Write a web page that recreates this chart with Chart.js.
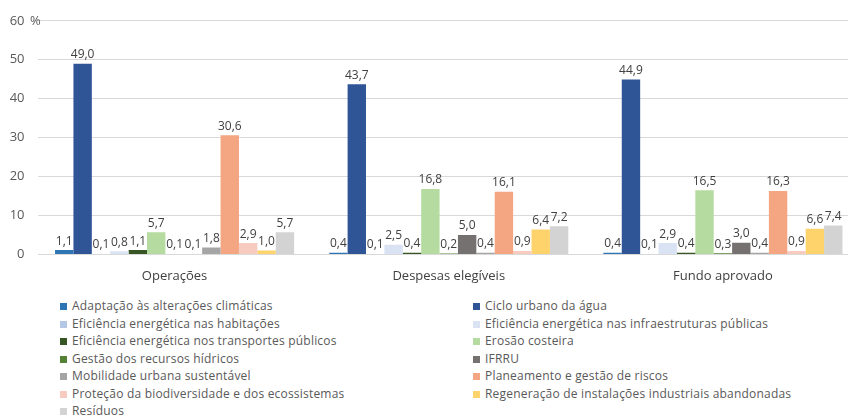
<!DOCTYPE html>
<html><head><meta charset="utf-8">
<script src="https://cdn.jsdelivr.net/npm/chart.js@4.4.0/dist/chart.umd.min.js"></script>
<style>
html,body{margin:0;padding:0;background:#fff;overflow:hidden;}
#wrap{position:relative;width:848px;height:416px;overflow:hidden;}
#c{position:absolute;left:0;top:0;}
#legend{position:absolute;left:60px;top:297px;width:790px;display:grid;grid-template-columns:413px 377px;font-family:"Open Sans",sans-serif;font-size:12px;letter-spacing:0.2px;color:#595959;}
#legend div{height:17.5px;line-height:17.5px;white-space:nowrap;}
#legend span{display:inline-block;width:7px;height:7px;margin-right:5px;vertical-align:0px;}
</style></head>
<body><div id="wrap"><canvas id="c" width="860" height="290"></canvas><div id="legend"></div></div>
<script>
const categories = ["Operações", "Despesas elegíveis", "Fundo aprovado"];
const seriesNames = [
 "Adaptação às alterações climáticas",
 "Ciclo urbano da água",
 "Eficiência energética nas habitações",
 "Eficiência energética nas infraestruturas públicas",
 "Eficiência energética nos transportes públicos",
 "Erosão costeira",
 "Gestão dos recursos hídricos",
 "IFRRU",
 "Mobilidade urbana sustentável",
 "Planeamento e gestão de riscos",
 "Proteção da biodiversidade e dos ecossistemas",
 "Regeneração de instalações industriais abandonadas",
 "Resíduos"
];
const operacoes = [1.1, 49.0, 0.1, 0.8, 1.1, 5.7, 0.1, 0.1, 1.8, 30.6, 2.9, 1.0, 5.7];
const despesas  = [0.4, 43.7, 0.1, 2.5, 0.4, 16.8, 0.2, 5.0, 0.4, 16.1, 0.9, 6.4, 7.2];
const fundo     = [0.4, 44.9, 0.1, 2.9, 0.4, 16.5, 0.3, 3.0, 0.4, 16.3, 0.9, 6.6, 7.4];
const colors = ["#2e75b6","#2f5597","#b4c7e7","#dae3f3","#375623","#b5dba0","#548235","#767171","#a5a5a5","#f4a582","#f8cbc0","#ffd36b","#d3d3d3"];
const yTicks = [0, 10, 20, 30, 40, 50, 60];

const datasets = seriesNames.map((n, i) => ({
  label: n,
  data: [operacoes[i], despesas[i], fundo[i]],
  backgroundColor: colors[i],
  borderWidth: 0
}));

const fmt = v => v.toFixed(1).replace('.', ',');
const FONT = '"Open Sans", sans-serif';

const labelPlugin = {
  id: 'vals',
  afterDatasetsDraw(chart) {
    const ctx = chart.ctx;
    ctx.save();
    ctx.font = '12px ' + FONT;
    ctx.fillStyle = '#404040';
    ctx.textAlign = 'center';
    ctx.textBaseline = 'bottom';
    chart.data.datasets.forEach((ds, i) => {
      const meta = chart.getDatasetMeta(i);
      meta.data.forEach((bar, j) => {
        ctx.fillText(fmt(ds.data[j]), bar.x, bar.y - 3);
      });
    });
    const y = chart.scales.y;
    ctx.font = '13px ' + FONT;
    ctx.fillStyle = '#595959';
    ctx.textAlign = 'left';
    ctx.textBaseline = 'middle';
    ctx.fillText('%', 30, y.getPixelForValue(60));
    ctx.restore();
  }
};

new Chart(document.getElementById('c'), {
  type: 'bar',
  data: { labels: categories, datasets },
  options: {
    responsive: false,
    animation: false,
    layout: { padding: { left: 2.5, right: 0, top: 4, bottom: 0 } },
    plugins: { legend: { display: false }, tooltip: { enabled: false } },
    datasets: { bar: { categoryPercentage: 0.872, barPercentage: 1.0 } },
    scales: {
      x: {
        grid: { display: false },
        border: { display: false },
        ticks: { color: '#404040', font: { family: FONT, size: 13 }, padding: 6 }
      },
      y: {
        min: 0, max: 60,
        afterBuildTicks: s => { s.ticks = yTicks.map(v => ({ value: v })); },
        afterFit: s => { s.width = 35; },
        grid: { color: '#d9d9d9', drawTicks: false },
        border: { display: false },
        ticks: { color: '#595959', font: { family: FONT, size: 13 }, padding: 13 }
      }
    }
  },
  plugins: [labelPlugin]
});

const lg = document.getElementById('legend');
seriesNames.forEach((n, i) => {
  const d = document.createElement('div');
  d.innerHTML = '<span style="background:' + colors[i] + '"></span>' + n;
  lg.appendChild(d);
});
</script></body></html>
